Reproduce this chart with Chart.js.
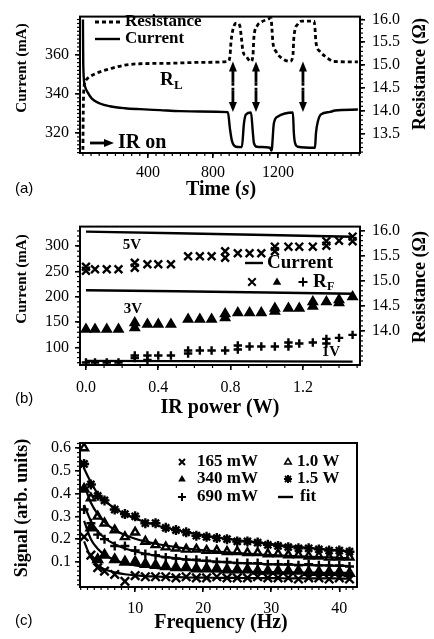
<!DOCTYPE html>
<html>
<head>
<meta charset="utf-8">
<script src="https://cdn.jsdelivr.net/npm/chart.js@4.4.1/dist/chart.umd.min.js"></script>
<style>
  html, body { margin: 0; padding: 0; background: #fff; }
  .panel { position: absolute; left: 0; width: 434px; }
</style>
</head>
<body>
<div class="panel" style="top:0;height:210px"><canvas id="chartA"></canvas></div>
<div class="panel" style="top:210px;height:210px"><canvas id="chartB"></canvas></div>
<div class="panel" style="top:420px;height:219px"><canvas id="chartC"></canvas></div>
<script>
const SERIF = '"Liberation Serif", "Times New Roman", serif';
const SANS = '"Liberation Sans", Arial, sans-serif';

// ---- (a) current / resistance vs time ----
const timeCurrent = [0, 2, 12, 31, 55, 105, 166, 258, 351, 474, 597, 720, 892, 905, 917, 942, 978, 991, 1003, 1034,
  1046, 1052, 1071, 1151, 1160, 1163, 1175, 1200, 1243, 1292, 1298, 1305, 1323, 1428, 1434, 1446, 1465, 1520, 1551, 1692];
const currentA = [378, 355, 344, 340.5, 337.6, 335.1, 333.7, 332.7, 332.2, 331.7, 331.2, 331, 330.7, 322, 316, 313, 312.8, 325, 329.5, 330.5,
  320, 315, 313, 312.5, 311, 312, 325, 328.5, 330, 330.5, 320, 315, 313, 312.5, 320, 326, 329.5, 330.8, 331.5, 332];
const timeRes = [0, 2, 6, 18, 43, 74, 123, 166, 258, 351, 535, 720, 892, 905, 911, 929, 948, 966, 975, 985, 1003, 1034,
  1046, 1052, 1071, 1102, 1138, 1157, 1163, 1169, 1188, 1225, 1274, 1292, 1298, 1323, 1348, 1422, 1428, 1434, 1458, 1508, 1538, 1692];
const resistanceA = [13.15, 13.98, 14.5, 14.67, 14.75, 14.81, 14.875, 14.92, 15.0, 15.03, 15.04, 15.06, 15.08, 15.2, 15.5, 15.85, 15.92, 15.85, 15.6, 15.3, 15.2, 15.08,
  15.2, 15.6, 15.85, 15.95, 16.0, 16.03, 15.8, 15.5, 15.3, 15.15, 15.08, 15.2, 15.6, 15.9, 15.96, 15.96, 15.8, 15.5, 15.3, 15.15, 15.08, 15.07];
const irOnTimes = [923, 1065, 1354];
const timeTicks = [400, 800, 1200];
const currentTicksA = [320, 340, 360];
const resTicksA = [13.5, 14.0, 14.5, 15.0, 15.5, 16.0];

// ---- (b) current / R_F vs IR power ----
const powerW = [0, 0.05, 0.115, 0.18, 0.27, 0.34, 0.40, 0.47, 0.565, 0.63, 0.695, 0.77, 0.84, 0.905, 0.97, 1.045, 1.12, 1.18, 1.255, 1.33, 1.40, 1.475];
const rf5V = [15.20, 15.23, 15.23, 15.23, 15.36, 15.33, 15.33, 15.33, 15.49, 15.49, 15.49, 15.59, 15.55, 15.55, 15.55, 15.68, 15.68, 15.68, 15.68, 15.79, 15.80, 15.88];
const rf5Vrep = [15.28, null, null, null, 15.26, null, null, null, null, null, null, 15.46, null, null, null, 15.59, null, null, null, 15.70, null, 15.79];
const rf3V = [14.03, 14.03, 14.03, 14.03, 14.16, 14.13, 14.13, 14.13, 14.23, 14.23, 14.23, 14.34, 14.36, 14.36, 14.36, 14.45, 14.45, 14.45, 14.58, 14.58, 14.62, 14.68];
const rf3Vrep = [null, null, null, null, 14.06, null, null, null, null, null, null, 14.26, null, null, null, 14.39, null, null, 14.49, null, 14.56, null];
const rf1V = [13.37, 13.37, 13.37, 13.37, 13.51, 13.51, 13.51, 13.51, 13.61, 13.61, 13.61, 13.61, 13.71, 13.69, 13.69, 13.69, 13.77, 13.75, 13.77, 13.84, 13.86, 13.92];
const rf1Vrep = [null, null, null, null, 13.46, 13.42, null, null, 13.55, null, null, null, 13.63, null, null, null, 13.69, null, null, 13.75, null, null];
const powerLine = [0, 0.5, 1.0, 1.475];
const cur5V = [328.5, 325.5, 322, 318.5];
const cur3V = [213, 211, 208.5, 206];
const cur1V = [73.5, 73, 72.5, 72];
const powerTicks = [0, 0.4, 0.8, 1.2];
const currentTicksB = [100, 150, 200, 250, 300];
const resTicksB = [14.0, 14.5, 15.0, 15.5, 16.0];

// ---- (c) signal vs frequency ----
const freqHz = [2.5, 3.5, 4.5, 5.5, 7, 8.5, 10, 11.5, 13, 14.5, 16, 17.5, 19, 20.5, 22, 23.5, 25, 26.5, 28, 29.5, 31, 32.5, 34, 35.5, 37, 38.5, 40, 41.5];
const sig165 = [0.21, 0.13, 0.075, 0.06, 0.045, 0.015, 0.04, 0.035, 0.035, 0.035, 0.03, 0.035, 0.03, 0.03, 0.035, 0.03, 0.03, 0.03, 0.035, 0.03, 0.03, 0.03, 0.025, 0.03, 0.03, 0.025, 0.03, 0.025];
const sig340 = [0.42, 0.25, 0.11, 0.13, 0.11, 0.10, 0.10, 0.09, 0.085, 0.08, 0.075, 0.075, 0.07, 0.07, 0.07, 0.065, 0.065, 0.065, 0.06, 0.06, 0.06, 0.06, 0.06, 0.055, 0.055, 0.055, 0.055, 0.05];
const sig690 = [0.33, 0.27, 0.22, 0.20, 0.17, 0.17, 0.15, 0.135, 0.13, 0.12, 0.115, 0.11, 0.11, 0.105, 0.10, 0.10, 0.095, 0.095, 0.095, 0.09, 0.09, 0.09, 0.085, 0.09, 0.085, 0.085, 0.085, 0.08];
const sig1000 = [0.60, 0.38, 0.30, 0.27, 0.24, 0.21, 0.23, 0.19, 0.175, 0.165, 0.16, 0.155, 0.155, 0.15, 0.15, 0.145, 0.145, 0.14, 0.14, 0.135, 0.135, 0.13, 0.13, 0.125, 0.125, 0.12, 0.12, 0.12];
const sig1500 = [0.53, 0.44, 0.39, 0.37, 0.33, 0.31, 0.30, 0.27, 0.27, 0.25, 0.24, 0.23, 0.215, 0.21, 0.205, 0.20, 0.19, 0.19, 0.185, 0.175, 0.17, 0.165, 0.16, 0.16, 0.155, 0.15, 0.15, 0.145];
const fit165 = [0.19, 0.12, 0.085, 0.068, 0.054, 0.046, 0.041, 0.038, 0.036, 0.034, 0.033, 0.032, 0.031, 0.031, 0.03, 0.03, 0.03, 0.029, 0.029, 0.029, 0.029, 0.028, 0.028, 0.028, 0.028, 0.028, 0.027, 0.027];
const fit340 = [0.28, 0.2, 0.158, 0.132, 0.108, 0.094, 0.085, 0.079, 0.074, 0.07, 0.067, 0.065, 0.063, 0.061, 0.06, 0.059, 0.058, 0.057, 0.056, 0.055, 0.055, 0.054, 0.054, 0.053, 0.053, 0.052, 0.052, 0.052];
const fit690 = [0.35, 0.28, 0.235, 0.205, 0.178, 0.159, 0.146, 0.136, 0.128, 0.121, 0.116, 0.111, 0.107, 0.104, 0.101, 0.098, 0.096, 0.094, 0.092, 0.09, 0.089, 0.088, 0.087, 0.086, 0.085, 0.084, 0.083, 0.082];
const fit1000 = [0.44, 0.36, 0.31, 0.275, 0.24, 0.218, 0.202, 0.19, 0.18, 0.172, 0.165, 0.159, 0.154, 0.15, 0.146, 0.142, 0.139, 0.136, 0.133, 0.131, 0.129, 0.127, 0.125, 0.123, 0.121, 0.12, 0.118, 0.117];
const fit1500 = [0.51, 0.45, 0.40, 0.37, 0.335, 0.31, 0.29, 0.275, 0.262, 0.25, 0.24, 0.231, 0.223, 0.215, 0.208, 0.202, 0.196, 0.19, 0.185, 0.18, 0.175, 0.17, 0.166, 0.162, 0.158, 0.154, 0.15, 0.147];
const freqTicks = [10, 20, 30, 40];
const signalTicks = [0.1, 0.2, 0.3, 0.4, 0.5, 0.6];

Chart.defaults.font.family = SERIF;
Chart.defaults.color = '#000';

function pts(xs, ys) {
  return xs.map((x, i) => ({ x, y: ys[i] })).filter(p => p.y !== null);
}

function axis(pos, min, max, ticks, size, fmt, pad) {
  return {
    type: 'linear', position: pos, min, max,
    afterBuildTicks: s => { s.ticks = ticks.map(v => ({ value: v })); },
    afterFit: s => { if (pos === 'bottom') s.height = size; else s.width = size; },
    grid: { display: true, drawOnChartArea: false, drawTicks: true, tickLength: 5, color: '#000', lineWidth: 1.6 },
    border: { display: true, color: '#000', width: 2 },
    ticks: { color: '#000', font: { size: 16, family: SERIF }, padding: pad, maxRotation: 0, autoSkip: false, callback: fmt }
  };
}

// frame + minor tick marks
const frameMinor = {
  id: 'minor',
  afterDraw(chart, args, opts) {
    const { ctx, chartArea: a } = chart;
    ctx.save();
    ctx.strokeStyle = '#000';
    ctx.lineWidth = 2;
    ctx.strokeRect(a.left, a.top, a.right - a.left, a.bottom - a.top);
    ctx.lineWidth = 1.2;
    ['x', 'y', 'y1'].forEach(id => {
      const step = opts[id];
      const s = chart.scales[id];
      if (!step || !s) return;
      for (let i = Math.ceil(s.min / step); i * step <= s.max + 1e-9; i++) {
        const p = s.getPixelForValue(i * step);
        ctx.beginPath();
        if (id === 'x') { ctx.moveTo(p, a.bottom); ctx.lineTo(p, a.bottom + 3); }
        else if (id === 'y') { ctx.moveTo(a.left, p); ctx.lineTo(a.left - 3, p); }
        else { ctx.moveTo(a.right, p); ctx.lineTo(a.right + 3, p); }
        ctx.stroke();
      }
    });
    ctx.restore();
  }
};

function text(ctx, s, x, y, font, align, rot) {
  ctx.save();
  ctx.font = font;
  ctx.fillStyle = '#000';
  ctx.textAlign = align || 'left';
  ctx.textBaseline = 'middle';
  ctx.translate(x, y);
  if (rot) ctx.rotate(rot);
  ctx.fillText(s, 0, 0);
  ctx.restore();
}

function partsCentered(ctx, parts, cx, y) {
  ctx.save();
  let w = 0;
  parts.forEach(p => { ctx.font = p[1]; w += ctx.measureText(p[0]).width; });
  let x = cx - w / 2;
  ctx.fillStyle = '#000';
  ctx.textBaseline = 'middle';
  parts.forEach(p => { ctx.font = p[1]; ctx.fillText(p[0], x, y); x += ctx.measureText(p[0]).width; });
  ctx.restore();
}

function line(ctx, x1, y1, x2, y2, w, dash) {
  ctx.save();
  ctx.strokeStyle = '#000';
  ctx.lineWidth = w;
  ctx.setLineDash(dash || []);
  ctx.beginPath(); ctx.moveTo(x1, y1); ctx.lineTo(x2, y2); ctx.stroke();
  ctx.restore();
}

function head(ctx, x, y, dx, dy, len, half) {
  // arrowhead with tip at (x, y) pointing along (dx, dy)
  ctx.save();
  ctx.fillStyle = '#000';
  ctx.beginPath();
  ctx.moveTo(x, y);
  ctx.lineTo(x - dx * len - dy * half, y - dy * len - dx * half);
  ctx.lineTo(x - dx * len + dy * half, y - dy * len + dx * half);
  ctx.closePath();
  ctx.fill();
  ctx.restore();
}

function marker(ctx, style, x, y, r) {
  ctx.save();
  ctx.strokeStyle = '#000';
  ctx.fillStyle = '#000';
  ctx.lineWidth = 2;
  ctx.beginPath();
  if (style === 'x' || style === 'star') {
    const d = r * 0.75;
    ctx.moveTo(x - d, y - d); ctx.lineTo(x + d, y + d);
    ctx.moveTo(x - d, y + d); ctx.lineTo(x + d, y - d);
  }
  if (style === '+' || style === 'star') {
    ctx.moveTo(x - r, y); ctx.lineTo(x + r, y);
    ctx.moveTo(x, y - r); ctx.lineTo(x, y + r);
  }
  ctx.stroke();
  if (style === 'tri' || style === 'otri') {
    ctx.beginPath();
    ctx.moveTo(x, y - r);
    ctx.lineTo(x + r * 0.95, y + r * 0.6);
    ctx.lineTo(x - r * 0.95, y + r * 0.6);
    ctx.closePath();
    if (style === 'tri') ctx.fill(); else { ctx.lineWidth = 1.5; ctx.stroke(); }
  }
  ctx.restore();
}

const bold = px => 'bold ' + px + 'px ' + SERIF;

// ---- chart (a) ----
new Chart(document.getElementById('chartA'), {
  type: 'line',
  data: {
    datasets: [
      { data: pts(timeCurrent, currentA), yAxisID: 'y', borderColor: '#000', borderWidth: 2.4, pointRadius: 0, cubicInterpolationMode: 'monotone' },
      { data: pts(timeRes, resistanceA), yAxisID: 'y1', borderColor: '#000', borderWidth: 2.8, borderDash: [4, 3], pointRadius: 0, cubicInterpolationMode: 'monotone' }
    ]
  },
  options: {
    animation: false, responsive: true, maintainAspectRatio: false, devicePixelRatio: 1,
    layout: { padding: { top: 10, left: 0, right: 0, bottom: 0 } },
    scales: {
      x: axis('bottom', -18, 1705, timeTicks, 57, v => String(v), 5),
      y: axis('left', 309.8, 379.5, currentTicksA, 80, v => String(v), 6),
      y1: axis('right', 13.08, 16.06, resTicksA, 74, v => v.toFixed(1), 7)
    },
    plugins: { legend: { display: false }, tooltip: { enabled: false }, minor: { x: 50, y: 2, y1: 0.1 } }
  },
  plugins: [frameMinor, {
    id: 'panelA',
    afterDraw(chart) {
      const { ctx, scales } = chart;
      text(ctx, 'Current (mA)', 22, 68, bold(15), 'center', -Math.PI / 2);
      text(ctx, 'Resistance (\u03A9)', 420, 74, bold(18), 'center', -Math.PI / 2);
      partsCentered(ctx, [['Time (', bold(20)], ['s', 'bold italic 20px ' + SERIF], [')', bold(20)]], 221, 190);
      text(ctx, '(a)', 15, 189, '15px ' + SANS);
      // legend
      line(ctx, 95, 22, 120, 22, 2.8, [4, 3]);
      text(ctx, 'Resistance', 125, 22, bold(17));
      line(ctx, 95, 39, 120, 39, 2.4);
      text(ctx, 'Current', 125, 39, bold(17));
      // R_L
      text(ctx, 'R', 160, 80, bold(19));
      text(ctx, 'L', 174, 86, bold(13));
      // IR on
      line(ctx, 90, 143, 105, 143, 2.8);
      head(ctx, 114, 143, 1, 0, 10, 4);
      text(ctx, 'IR on', 118, 143, bold(20));
      // IR-on double arrows between the two traces
      irOnTimes.forEach(t => {
        const x = scales.x.getPixelForValue(t);
        const yt = scales.y1.getPixelForValue(15.08);
        const yb = scales.y.getPixelForValue(330.7);
        const h = yb - yt;
        line(ctx, x, yt + 6, x, yt + 0.42 * h, 2.8);
        line(ctx, x, yt + 0.42 * h, x, yt + 0.58 * h, 2.8, [3, 2]);
        line(ctx, x, yt + 0.58 * h, x, yb - 6, 2.8);
        head(ctx, x, yt, 0, -1, 10, 4);
        head(ctx, x, yb, 0, 1, 10, 4);
      });
    }
  }]
});

// ---- chart (b) ----
const scatterB = (ys, style, r) => ({
  data: pts(powerW, ys), yAxisID: 'y1', showLine: false, pointStyle: style, pointRadius: r,
  borderColor: '#000', backgroundColor: '#000', borderWidth: 2.4
});
const lineB = ys => ({ data: pts(powerLine, ys), yAxisID: 'y', borderColor: '#000', borderWidth: 2.4, pointRadius: 0 });

new Chart(document.getElementById('chartB'), {
  type: 'line',
  data: {
    datasets: [
      lineB(cur5V), lineB(cur3V), lineB(cur1V),
      scatterB(rf5V, 'crossRot', 5.5), scatterB(rf5Vrep, 'crossRot', 5.5),
      scatterB(rf3V, 'triangle', 4.5), scatterB(rf3Vrep, 'triangle', 4.5),
      scatterB(rf1V, 'cross', 4.2), scatterB(rf1Vrep, 'cross', 4.2)
    ]
  },
  options: {
    animation: false, responsive: true, maintainAspectRatio: false, devicePixelRatio: 1,
    layout: { padding: { top: 13, left: 0, right: 0, bottom: 0 } },
    scales: {
      x: axis('bottom', -0.033, 1.516, powerTicks, 55, v => v.toFixed(1), 8),
      y: axis('left', 65.4, 338.5, currentTicksB, 80, v => String(v), 6),
      y1: axis('right', 13.32, 16.08, resTicksB, 74, v => v.toFixed(1), 7)
    },
    plugins: { legend: { display: false }, tooltip: { enabled: false }, minor: { x: 0.1, y: 10, y1: 0.1 } }
  },
  plugins: [frameMinor, {
    id: 'panelB',
    afterDraw(chart) {
      const { ctx } = chart;
      text(ctx, 'Current (mA)', 22, 69, bold(15), 'center', -Math.PI / 2);
      text(ctx, 'Resistance (\u03A9)', 420, 77, bold(18), 'center', -Math.PI / 2);
      text(ctx, 'IR power (W)', 220, 198, bold(20), 'center');
      text(ctx, '(b)', 15, 189, '15px ' + SANS);
      text(ctx, '5V', 132, 35, bold(15), 'center');
      text(ctx, '3V', 133, 99, bold(15), 'center');
      text(ctx, '1V', 331, 142, bold(15), 'center');
      // legend
      line(ctx, 245, 53, 263, 53, 2.4);
      text(ctx, 'Current', 267, 53, bold(19));
      marker(ctx, 'x', 252, 72, 5);
      marker(ctx, 'tri', 277, 72, 4.5);
      marker(ctx, '+', 303, 72, 4.5);
      text(ctx, 'R', 313, 72, bold(19));
      text(ctx, 'F', 327, 77, bold(12));
    }
  }]
});

// ---- chart (c) ----
const scatterC = (ys, style, r, fill) => ({
  data: pts(freqHz, ys), showLine: false, pointStyle: style, pointRadius: r,
  borderColor: '#000', backgroundColor: fill, borderWidth: 2.4
});
const fitC = ys => ({ data: pts(freqHz, ys), borderColor: '#000', borderWidth: 2.2, pointRadius: 0, cubicInterpolationMode: 'monotone' });

new Chart(document.getElementById('chartC'), {
  type: 'line',
  data: {
    datasets: [
      fitC(fit165), fitC(fit340), fitC(fit690), fitC(fit1000), fitC(fit1500),
      scatterC(sig165, 'crossRot', 6, '#000'),
      scatterC(sig340, 'triangle', 5, '#000'),
      scatterC(sig690, 'cross', 4.5, '#000'),
      scatterC(sig1000, 'triangle', 4.5, '#fff'),
      scatterC(sig1500, 'star', 5, '#000')
    ]
  },
  options: {
    animation: false, responsive: true, maintainAspectRatio: false, devicePixelRatio: 1,
    layout: { padding: { top: 23, left: 0, right: 77, bottom: 0 } },
    scales: {
      x: axis('bottom', 1.9, 42.6, freqTicks, 52, v => String(v), 7),
      y: axis('left', -0.01, 0.622, signalTicks, 80, v => v.toFixed(1), 4)
    },
    plugins: { legend: { display: false }, tooltip: { enabled: false }, minor: { x: 1, y: 0.02 } }
  },
  plugins: [frameMinor, {
    id: 'panelC',
    afterDraw(chart) {
      const { ctx } = chart;
      text(ctx, 'Signal (arb. units)', 22, 88, bold(18), 'center', -Math.PI / 2);
      text(ctx, 'Frequency (Hz)', 221, 203, bold(20), 'center');
      text(ctx, '(c)', 15, 201, '15px ' + SANS);
      marker(ctx, 'x', 182, 42, 4);
      text(ctx, '165 mW', 197, 42, bold(17));
      marker(ctx, 'tri', 182, 59, 4);
      text(ctx, '340 mW', 197, 59, bold(17));
      marker(ctx, '+', 182, 77, 4);
      text(ctx, '690 mW', 197, 77, bold(17));
      marker(ctx, 'otri', 288, 42, 3.5);
      text(ctx, '1.0 W', 297, 42, bold(17));
      marker(ctx, 'star', 288, 59, 4);
      text(ctx, '1.5 W', 297, 59, bold(17));
      line(ctx, 278, 77, 293, 77, 2.4);
      text(ctx, 'fit', 300, 77, bold(17));
    }
  }]
});
</script>
</body>
</html>
